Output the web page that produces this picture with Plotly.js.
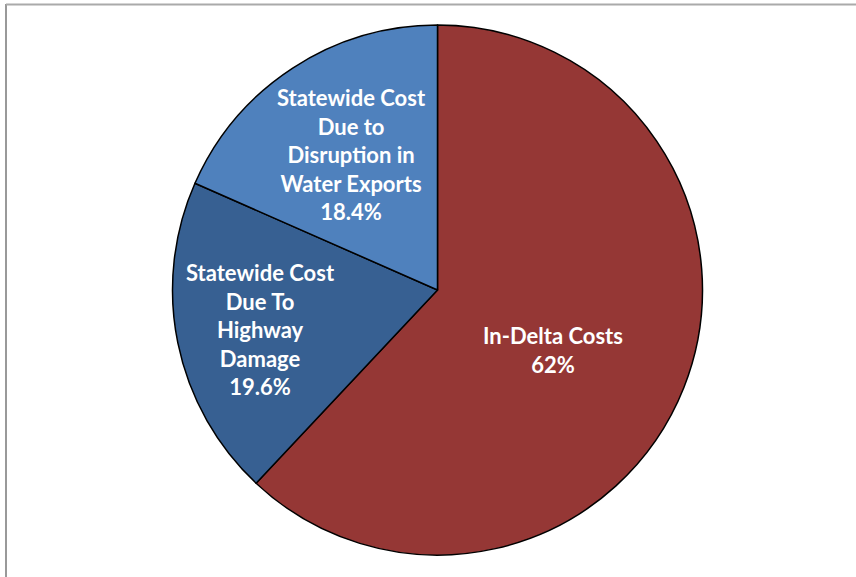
<!DOCTYPE html>
<html>
<head>
<meta charset="utf-8">
<script src="https://cdn.plot.ly/plotly-3.0.1.min.js"></script>
<style>
html,body{margin:0;padding:0;background:#fff;}
#chart{width:856px;height:577px;}
</style>
</head>
<body>
<div id="chart"></div>
<script>
// Data
var categories = ["In-Delta Costs", "Statewide Cost Due To Highway Damage", "Statewide Cost Due to Disruption in Water Exports"];
var values = [62, 19.6, 18.4];
var labelTexts = ["In-Delta Costs<br>62%", "Statewide Cost<br>Due To<br>Highway<br>Damage<br>19.6%", "Statewide Cost<br>Due to<br>Disruption in<br>Water Exports<br>18.4%"];
var colors = ["#953735", "#376092", "#4f81bd"];

// Label positions (pixels in the 856x577 frame)
var labelPos = [[553, 350], [260, 329], [351, 155]];

var W = 856, H = 577;
var cx = 437.5, cy = 290, R = 265;

var annotations = labelTexts.map(function (t, i) {
  return {
    text: t,
    x: labelPos[i][0] / W,
    y: 1 - labelPos[i][1] / H,
    xref: "paper", yref: "paper",
    showarrow: false,
    xanchor: "center", yanchor: "middle",
    align: "center",
    font: {family: "Lato, 'Open Sans', sans-serif", size: 22, color: "#ffffff", weight: "bold"}
  };
});

var trace = {
  type: "pie",
  labels: categories,
  values: values,
  sort: false,
  direction: "clockwise",
  rotation: 0,
  textinfo: "none",
  hoverinfo: "label+percent",
  marker: {colors: colors, line: {color: "#000000", width: 1.5}},
  domain: {
    x: [(cx - R) / W, (cx + R) / W],
    y: [1 - (cy + R) / H, 1 - (cy - R) / H]
  }
};

var layout = {
  width: W, height: H,
  margin: {l: 0, r: 0, t: 0, b: 0},
  paper_bgcolor: "#ffffff",
  showlegend: false,
  annotations: annotations,
  shapes: [
    {type: "line", xref: "paper", yref: "paper", x0: 6 / W, x1: 6 / W, y0: 0, y1: 1 - 4 / H, line: {color: "#999999", width: 2}},
    {type: "line", xref: "paper", yref: "paper", x0: 6 / W, x1: 1, y0: 1 - 4.5 / H, y1: 1 - 4.5 / H, line: {color: "#aaaaaa", width: 2}}
  ]
};

Plotly.newPlot("chart", [trace], layout, {displayModeBar: false, staticPlot: true});
</script>
</body>
</html>
